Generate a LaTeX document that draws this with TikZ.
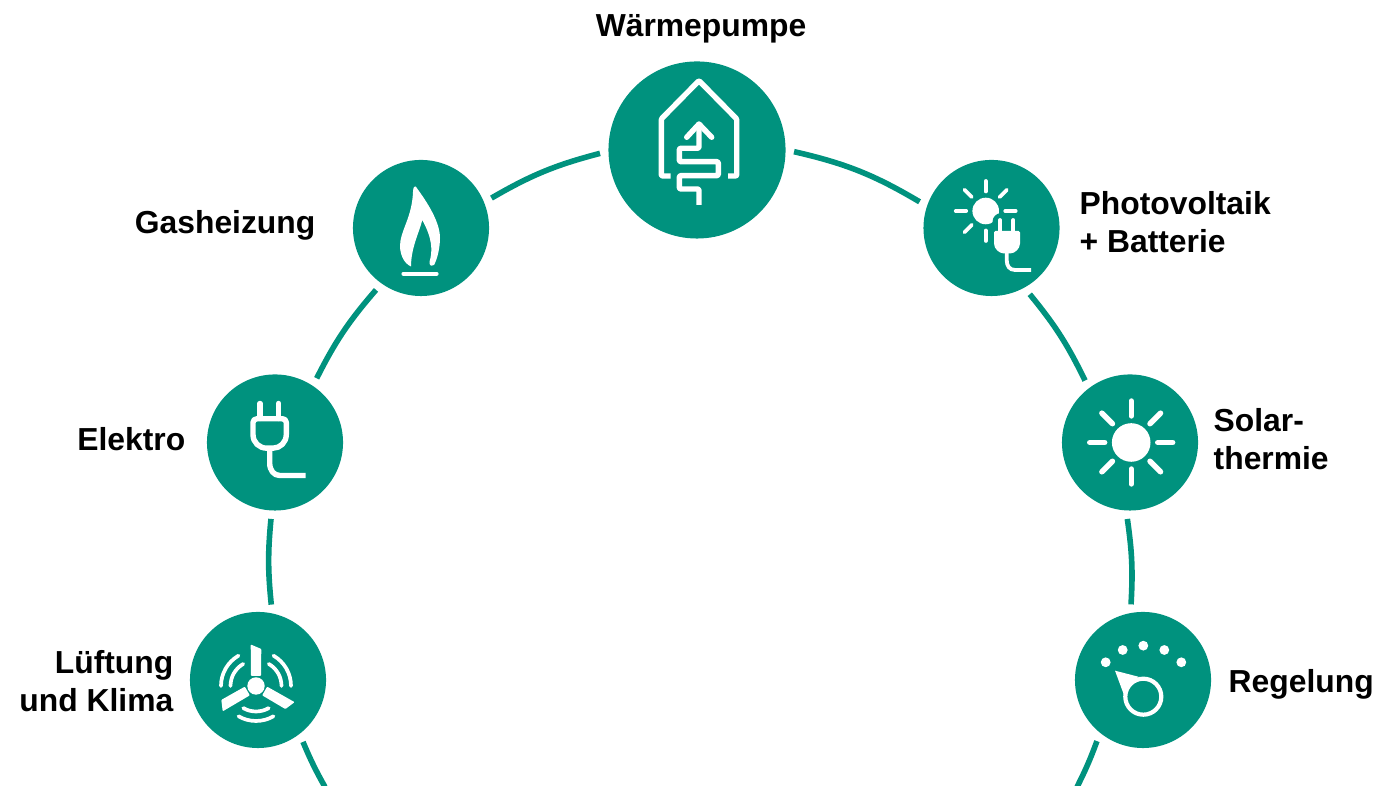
\documentclass[tikz,border=0pt]{standalone}
\usepackage{fontspec}
\setmainfont{Liberation Sans}
\usetikzlibrary{calc}
\definecolor{discCol}{RGB}{0, 146, 126}
\tikzset{myRingLine/.style={line width=0.056cm,color=discCol}}
\tikzset{myDisc/.style={circle,fill=discCol,inner sep=0pt,outer sep=0.085cm,minimum size=1.36cm}}
\tikzset{myBigDisc/.style={myDisc,minimum size=1.77cm}}
\tikzset{myLabel/.style={inner sep=0pt,align=left,font=\fontsize{9.05}{11}\selectfont\bfseries}}
\tikzset{myIconLine/.style={line width=0.054cm,color=white,line join=round}}
\tikzset{myThinLine/.style={line width=0.037cm,color=white,line cap=round}}

\begin{document}
\begin{tikzpicture}[x=0.01cm,y=0.01cm]
	\useasboundingbox (0,0) rectangle (1379,786);

	\node[myBigDisc](waerme) at (697,636){};
	\node[myDisc](gas) at (421,558){};
	\node[myDisc](pv) at (991.5,558){};
	\node[myDisc](elektro) at (275,343.5){};
	\node[myDisc](solar) at (1130,343.5){};
	\node[myDisc](lueftung) at (258,106){};
	\node[myDisc](regelung) at (1143,106){};
	\coordinate (botLeft) at (325,-1);
	\coordinate (botRight) at (1077,-1);

	\node[myLabel](waermeText) at (701,757){Wärmepumpe};
	\node[myLabel,anchor=east](gasText) at (316,561){Gasheizung};
	\node[myLabel,anchor=east](elektroText) at (186,347){Elektro};
	\node[myLabel,anchor=east,align=right](lueftungText) at (174,105){Lüftung\\und Klima};
	\node[myLabel,anchor=west](pvText) at (1079,564){Photovoltaik\\+ Batterie};
	\node[myLabel,anchor=west](solarText) at (1213,347){Solar-\\thermie};
	\node[myLabel,anchor=west](regelungText) at (1228,102){Regelung};

	% ring
	\draw[myRingLine](botLeft) to[bend left=3.2] (lueftung.-54);
	\draw[myRingLine](lueftung.80.9) to[bend left=5.7] (elektro.267.8);
	\draw[myRingLine](elektro.57.6) to[bend left=7.1] (gas.234);
	\draw[myRingLine](gas.23.9) to[bend left=7.75] (waerme.182.4);
	\draw[myRingLine](waerme.-1.75) to[bend left=8.9] (pv.160.7);
	\draw[myRingLine](pv.-60.4) to[bend left=6.75] (solar.126.3);
	\draw[myRingLine](solar.268.5) to[bend left=5.75] (regelung.99);
	\draw[myRingLine](regelung.233.9) to[bend left=3.2] (botRight);

	% house
	\begin{scope}[shift={(waerme.center)}]
		\draw[myIconLine,rounded corners=0.01cm](-26.3,-26)--(-35.7,-26)--(-35.7,31)--(2,69.3)--(39.7,31)--(39.7,-26)--(31,-26);
		\draw[myIconLine,rounded corners=0.012cm](2,-55)--(2,-39)--(-17.7,-39)--(-17.7,-25.7)--(21.3,-25.7)--(21.3,-11.7)--(-17.7,-11.7)--(-17.7,1.7)--(2,1.7)--(2,25);
		\draw[myIconLine,line cap=round](-10.3,12.7)--(2,26)--(14.7,12.7);
	\end{scope}

	% flame
	\begin{scope}[shift={(gas.center)}]
		\fill[white](-5.3,41.5) .. controls (3,30) and (19,8) .. (19,-10) .. controls (19,-20) and (16,-32) .. (13,-37) .. controls (12,-38.5) and (8,-38.5) .. (8.5,-34) .. controls (12,-22) and (11,-10) .. (1.3,8) .. controls (-2,-5) and (-10,-20) .. (-10,-38.5) .. controls (-18,-35) and (-21,-25) .. (-21,-18) .. controls (-21,-3) and (-9,10) .. (-8,36) .. controls (-8,41) and (-6,42.5) .. cycle;
		\draw[white,line width=0.042cm,line cap=round](-17.5,-45.7)--(15.5,-45.7);
	\end{scope}

	% sun and plug
	\begin{scope}[shift={(pv.center)}]
		\foreach \a in {0,45,90,135,180,225,270}
			\draw[myThinLine]($(-5.8,17)+(\a:19.5)$)--($(-5.8,17)+(\a:30)$);
		\fill[white](-5.8,17) circle [radius=13.3];
		\fill[discCol](9.5,6.3) circle [radius=8.5];
		\draw[myThinLine](8.5,8)--(8.5,-3);
		\draw[myThinLine](21.8,8)--(21.8,-3);
		\fill[white,rounded corners=0.015cm](2.5,-3)--(28.5,-3)--(28.5,-14) .. controls (28.5,-21) and (23,-25.3) .. (18,-25.3)--(13,-25.3) .. controls (8,-25.3) and (2.5,-21) .. (2.5,-14)--cycle;
		\draw[white,line width=0.038cm](15.2,-25)--(15.2,-32) .. controls (15.2,-38) and (18,-42) .. (23.5,-42)--(39.5,-42);
	\end{scope}

	% plug
	\begin{scope}[shift={(elektro.center)}]
		\draw[myIconLine,line cap=round](-15,39)--(-15,24);
		\draw[myIconLine,line cap=round](3.7,39)--(3.7,24);
		\draw[myIconLine](-22,20) .. controls (-22,22.5) and (-20,23.7) .. (-18,23.7)--(7.3,23.7) .. controls (9.5,23.7) and (11.3,22.5) .. (11.3,20)--(11.3,8) .. controls (11.3,0) and (5,-5.7) .. (-2,-5.7)--(-8,-5.7) .. controls (-16,-5.7) and (-22,0) .. (-22,8)--cycle;
		\draw[myIconLine](-5.3,-5.7)--(-5.3,-20.7) .. controls (-5.3,-28) and (-1,-33) .. (4.7,-33)--(30.7,-33);
	\end{scope}

	% sun
	\begin{scope}[shift={(solar.center)}]
		\foreach \a in {0,45,...,315}
			\draw[myIconLine,line cap=round]($(1.2,0)+(\a:26.5)$)--($(1.2,0)+(\a:41.5)$);
		\fill[white](1.2,0) circle [radius=19.3];
	\end{scope}

	% fan
	\begin{scope}[shift={(lueftung.center)},shift={(-2,-6)}]
		\foreach \a in {0,120,240}{
			\fill[white,rotate=\a,rounded corners=0.008cm](-5.3,41.5)--(5.3,37)--(5,10)--(-5,10)--cycle;
		}
		\foreach \a in {30,150,270}{
			\draw[myThinLine]({\a-30}:25.5) arc [start angle={\a-30},end angle={\a+30},radius=25.5];
			\draw[myThinLine]({\a-30}:35) arc [start angle={\a-30},end angle={\a+30},radius=35];
		}
		\fill[white](0,0) circle [radius=8.7];
	\end{scope}

	% dial
	\begin{scope}[shift={(regelung.center)}]
		\foreach \p in {(-37.3,17.7),(-20.3,30),(0.3,34.3),(21.3,30),(38.3,17.7)}
			\fill[white]\p circle [radius=4.9];
		\fill[white](-28,9.3)--(-4.7,3.3)--(-19,-15)--cycle;
		\draw[white,fill=discCol,line width=0.042cm](0.3,-16.7) circle [radius=18];
	\end{scope}
\end{tikzpicture}
\end{document}
